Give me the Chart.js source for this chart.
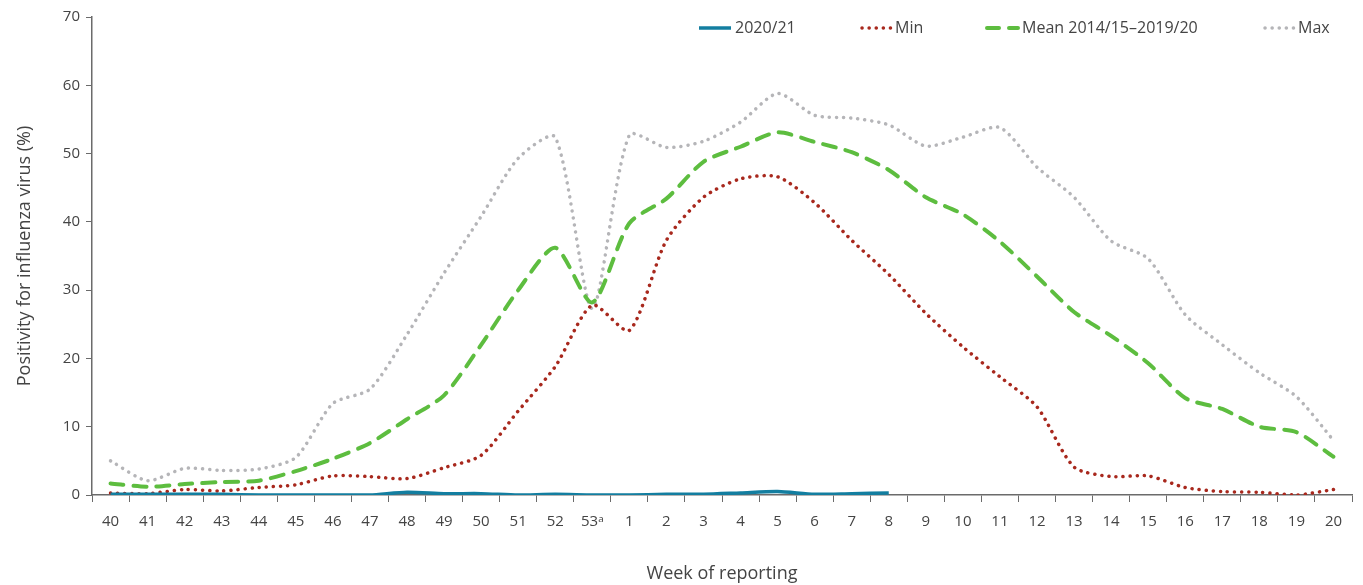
<!DOCTYPE html>
<html>
<head>
<meta charset="utf-8">
<script src="https://cdn.jsdelivr.net/npm/chart.js@4/dist/chart.umd.min.js"></script>
<style>
  html, body { margin: 0; padding: 0; background: #fff; }
  canvas { display: block; }
</style>
</head>
<body>
<canvas id="chart" width="1363" height="585" style="width:1363px;height:585px"></canvas>
<script>
  // weeks of reporting, season 40 -> 20
  const weeks = ['40','41','42','43','44','45','46','47','48','49','50','51','52','53\u1d43',
                 '1','2','3','4','5','6','7','8','9','10','11','12','13','14','15','16','17','18','19','20'];

  // positivity (%)
  const season2021 = [0.1,0.1,0.1,0.1,0.0,0.0,0.0,0.0,0.4,0.2,0.2,0.0,0.1,0.0,
                      0.0,0.1,0.1,0.3,0.5,0.1,0.2,0.3,
                      null,null,null,null,null,null,null,null,null,null,null,null];
  const minVals = [0.3,0.2,0.8,0.6,1.1,1.5,2.8,2.7,2.4,4.0,5.8,12.3,18.8,27.8,
                   24.1,37.3,43.6,46.3,46.6,42.8,37.3,32.3,26.6,21.7,17.3,12.9,4.1,2.7,2.8,1.1,0.5,0.4,0.0,0.8];
  const meanVals = [1.7,1.2,1.6,1.9,2.1,3.5,5.3,7.6,11.1,14.6,22.0,30.0,36.2,28.2,
                    39.8,43.4,48.8,51.0,53.1,51.7,50.2,47.6,43.6,41.1,37.1,32.0,26.8,23.3,19.3,14.2,12.6,10.0,9.2,5.6];
  const maxVals = [5.0,2.1,3.9,3.6,3.8,5.5,13.4,15.5,23.5,32.5,40.8,49.3,52.4,27.3,
                   52.7,50.9,51.8,54.6,58.8,55.6,55.2,54.2,51.1,52.4,53.8,48.0,43.6,37.2,34.6,26.4,22.0,17.9,14.4,8.0];

  const fontFam = '"Open Sans", "Noto Sans", sans-serif';
  const textCol = '#444444';
  const axisCol = '#6b6b6b';

  // legend drawn on the canvas so the dash patterns show
  const legendItems = [
    { label: '2020/21', color: '#137ea0', dash: [], width: 3.5, cap: 'butt', x0: 699, x1: 731 },
    { label: 'Min', color: '#a8281d', dash: [0.1, 7], width: 3.5, cap: 'round', x0: 862, x1: 891 },
    { label: 'Mean 2014/15\u20132019/20', color: '#5dbd3f', dash: [12, 10], width: 4, cap: 'round', x0: 987, x1: 1018 },
    { label: 'Max', color: '#b5b5b8', dash: [0.1, 7], width: 3.5, cap: 'round', x0: 1265, x1: 1294 }
  ];

  const legendPlugin = {
    id: 'lineLegend',
    afterDraw(chart) {
      const ctx = chart.ctx;
      const y = 28;
      ctx.save();
      legendItems.forEach(it => {
        ctx.beginPath();
        ctx.setLineDash(it.dash);
        ctx.lineCap = it.cap;
        ctx.lineWidth = it.width;
        ctx.strokeStyle = it.color;
        ctx.moveTo(it.x0, y);
        ctx.lineTo(it.x1, y);
        ctx.stroke();
        ctx.setLineDash([]);
        ctx.fillStyle = textCol;
        ctx.font = '16px ' + fontFam;
        ctx.textBaseline = 'middle';
        ctx.textAlign = 'left';
        ctx.fillText(it.label, it.x1 + 4, y);
      });
      ctx.restore();
    }
  };

  const ctx = document.getElementById('chart');

  const chart = new Chart(ctx, {
    type: 'line',
    data: {
      labels: weeks,
      datasets: [
        {
          label: '2020/21',
          data: season2021,
          borderColor: '#137ea0',
          borderWidth: 3.5,
          tension: 0.25,
          pointRadius: 0,
          spanGaps: false
        },
        {
          label: 'Min',
          data: minVals,
          borderColor: '#a8281d',
          borderWidth: 3.5,
          borderDash: [0.1, 7],
          borderCapStyle: 'round',
          tension: 0.25,
          pointRadius: 0
        },
        {
          label: 'Mean 2014/15\u20132019/20',
          data: meanVals,
          borderColor: '#5dbd3f',
          borderWidth: 4,
          borderDash: [13, 10],
          borderCapStyle: 'round',
          tension: 0.25,
          pointRadius: 0
        },
        {
          label: 'Max',
          data: maxVals,
          borderColor: '#b5b5b8',
          borderWidth: 3.5,
          borderDash: [0.1, 7],
          borderCapStyle: 'round',
          tension: 0.25,
          pointRadius: 0
        }
      ]
    },
    options: {
      responsive: false,
      maintainAspectRatio: false,
      animation: false,
      devicePixelRatio: 1,
      layout: { padding: { top: 17, right: 11, left: 0, bottom: 0 } },
      plugins: {
        legend: { display: false },
        tooltip: { enabled: false }
      },
      scales: {
        x: {
          offset: true,
          grid: { offset: true, drawOnChartArea: false, tickLength: 7, color: axisCol },
          border: { color: axisCol, width: 1.5 },
          ticks: { color: textCol, font: { family: fontFam, size: 15 }, padding: 11, maxRotation: 0, autoSkip: false },
          title: { display: true, text: 'Week of reporting', color: textCol, font: { family: fontFam, size: 18 }, padding: { top: 20, bottom: 0 } },
          afterFit: s => { s.height = 90; }
        },
        y: {
          min: 0,
          max: 70,
          ticks: { stepSize: 10, color: textCol, font: { family: fontFam, size: 15 }, padding: 6 },
          grid: { drawOnChartArea: false, tickLength: 6, color: axisCol },
          border: { color: axisCol, width: 1.5 },
          title: { display: true, text: 'Positivity for influenza virus (%)', color: textCol, font: { family: fontFam, size: 18 }, padding: { top: 14, bottom: 0 } },
          afterFit: s => { s.width = 92; }
        }
      }
    },
    plugins: [legendPlugin]
  });
</script>
</body>
</html>
